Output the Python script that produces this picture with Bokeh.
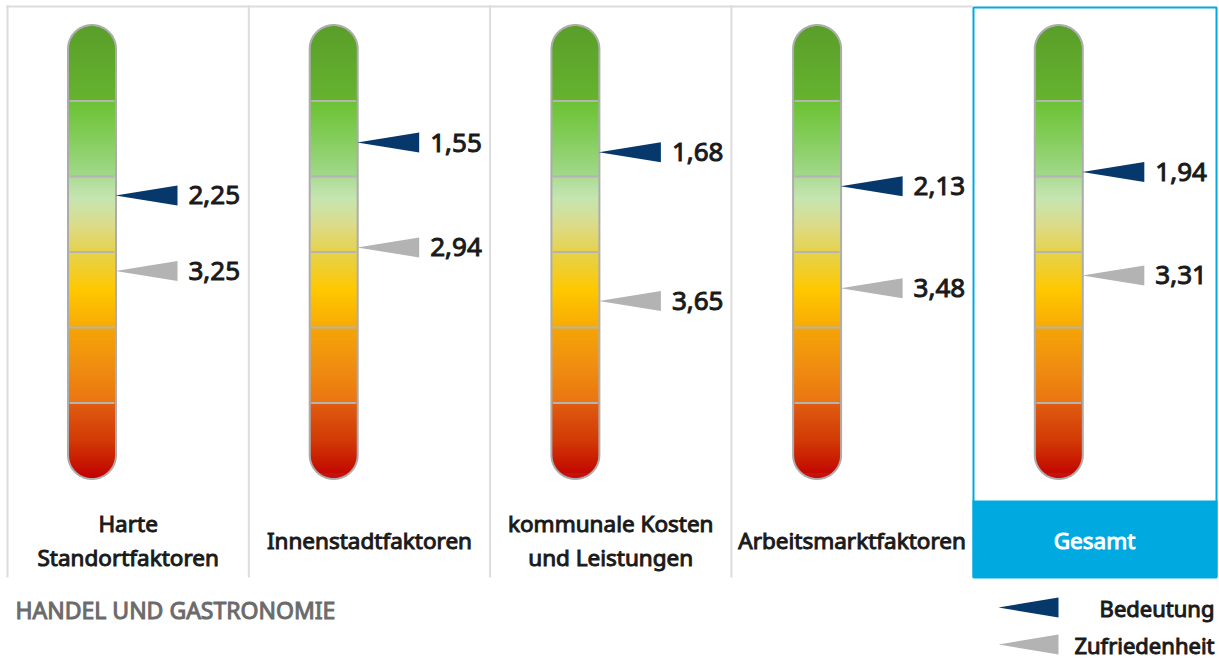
import numpy as np
from bokeh.plotting import figure
from bokeh.models import Range1d, ColumnDataSource
from bokeh.core.properties import value
from bokeh.embed import file_html
from bokeh.resources import INLINE

# ---------------- data ----------------
categories = ["Harte\nStandortfaktoren", "Innenstadtfaktoren",
              "kommunale Kosten\nund Leistungen", "Arbeitsmarktfaktoren", "Gesamt"]
bedeutung = [2.25, 1.55, 1.68, 2.13, 1.94]
zufriedenheit = [3.25, 2.94, 3.65, 3.48, 3.31]
scale_min, scale_max = 0, 6
scale_lines = [1, 2, 3, 4, 5]
title = "HANDEL UND GASTRONOMIE"
legend_labels = ["Bedeutung", "Zufriedenheit"]

# ---------------- style ----------------
BLUE = "#06386c"
GREY = "#b3b3b3"
FRAME = "#dcdcdc"
ACCENT = "#00a9e0"
FONT = "Noto Sans"
TXT = "#1a1a1a"
grad_stops = [(0.0, "#5a9e2a"), (0.99, "#66b32f"), (1.01, "#6cc234"), (1.5, "#84cd5c"),
              (1.99, "#a2d88a"), (2.01, "#aedb98"), (2.3, "#c6e5b0"), (2.65, "#dcdb88"),
              (2.99, "#e6d24e"), (3.01, "#e5d24a"), (3.5, "#ffc800"), (3.99, "#f8aa06"),
              (4.01, "#f5a408"), (4.5, "#f08e10"), (4.99, "#ea7612"), (5.01, "#e05c10"),
              (5.5, "#d23a06"), (6.0, "#c00000")]

K = 75.5     # pixels per scale unit
Y0 = 25.0    # page y of scale value 0
W, H = 1219, 661


def vy(img_y):
    return (img_y - Y0) / K


p = figure(width=W, height=H, x_range=Range1d(0, W),
           y_range=Range1d(vy(H), vy(0)), output_backend="svg",
           toolbar_location=None, min_border=0,
           x_axis_location=None, y_axis_location=None)
p.grid.visible = False
p.outline_line_color = None
p.background_fill_color = "white"
p.border_fill_color = "white"

n = len(categories)
panel_w = 241.3
panel_left = [7 + i * panel_w for i in range(n)]
bar_cx = [91.5 + i * 241.7 for i in range(n)]
BW = 23.5
L = (scale_max - scale_min) * K

# ---------------- frame ----------------
p.segment(x0=[6], x1=[972], y0=[vy(6)], y1=[vy(6)], line_color=FRAME, line_width=2)
for xl in [7] + panel_left[1:4]:
    p.segment(x0=[xl], x1=[xl], y0=[vy(5)], y1=[vy(577)], line_color=FRAME, line_width=2)
p.quad(left=[972], right=[1217], top=[vy(500)], bottom=[vy(577)],
       fill_color=ACCENT, line_color=None)
p.quad(left=[973], right=[1216], top=[vy(7)], bottom=[vy(577)],
       fill_color=None, line_color=ACCENT, line_width=2)

# ---------------- gradient bars ----------------
sv = np.array([s[0] for s in grad_stops])
rgb = np.array([[int(c[1:3], 16), int(c[3:5], 16), int(c[5:7], 16)] for _, c in grad_stops])


def grad_color(v):
    return "#%02x%02x%02x" % tuple(int(round(np.interp(v, sv, rgb[:, k]))) for k in range(3))


left, right, top, bottom, colors = [], [], [], [], []
r = BW
for cx in bar_cx:
    for ypx in np.arange(0, L, 1.0):
        yc = ypx + 0.5
        if yc < r:
            hw = np.sqrt(max(r * r - (r - yc) ** 2, 0))
        elif yc > L - r:
            hw = np.sqrt(max(r * r - (yc - (L - r)) ** 2, 0))
        else:
            hw = r
        left.append(cx - hw)
        right.append(cx + hw)
        top.append(ypx / K)
        bottom.append(min(ypx + 1.4, L) / K)
        colors.append(grad_color(yc / K))
p.quad(source=ColumnDataSource(dict(left=left, right=right, top=top, bottom=bottom, c=colors)),
       left="left", right="right", top="top", bottom="bottom",
       fill_color="c", line_color=None)

# separators
sx0, sx1, sy = [], [], []
for cx in bar_cx:
    for v in scale_lines:
        sx0.append(cx - BW + 1)
        sx1.append(cx + BW - 1)
        sy.append(v)
p.segment(x0=sx0, x1=sx1, y0=sy, y1=sy, line_color="#b4b4b4", line_width=2)

# outlines
ox, oy = [], []
ro = r + 0.5
for cx in bar_cx:
    th1 = np.linspace(0, np.pi, 40)
    th2 = np.linspace(np.pi, 2 * np.pi, 40)
    xs = list(cx + ro * np.cos(th1)) + list(cx + ro * np.cos(th2)) + [cx + ro]
    ys = list((r - ro * np.sin(th1)) / K) + list(((L - r) - ro * np.sin(th2)) / K) + [r / K]
    ox.append(xs)
    oy.append(ys)
p.multi_line(xs=ox, ys=oy, line_color="#acacac", line_width=2)

# ---------------- markers ----------------
TL = 62      # triangle length px
TH = 10 / K  # half height
for vals, col in [(bedeutung, BLUE), (zufriedenheit, GREY)]:
    xs = [[cx + BW, cx + BW + TL, cx + BW + TL] for cx in bar_cx]
    ys = [[v, v - TH, v + TH] for v in vals]
    p.patches(xs=xs, ys=ys, fill_color=col, line_color=None)
    p.text(x=[cx + BW + 73 for cx in bar_cx], y=vals,
           text=[f"{v:.2f}".replace(".", ",") for v in vals],
           text_font=value(FONT), text_font_size="26px",
           text_color=TXT, text_outline_color=TXT,
           text_align="left", text_baseline="middle")

# ---------------- category labels ----------------
lab_x = [pl + panel_w / 2 for pl in panel_left[:4]] + [1094]
lab_col = [TXT] * 4 + ["white"]
p.text(x=lab_x, y=[vy(540)] * n, text=categories, text_color=lab_col,
       text_outline_color=lab_col,
       text_font=value(FONT), text_font_size="22.5px", text_align="center",
       text_baseline="middle", text_line_height=1.08)

# ---------------- title & legend ----------------
p.text(x=[15], y=[vy(609)], text=[title], text_color="#6b6b6b",
       text_outline_color="#6b6b6b",
       text_font=value(FONT), text_font_size="23px", text_align="left",
       text_baseline="middle")
leg_y = [vy(607), vy(644)]
for yv, col in zip(leg_y, [BLUE, GREY]):
    p.patches(xs=[[998, 1058, 1058]], ys=[[yv, yv - TH, yv + TH]], fill_color=col, line_color=None)
p.text(x=[1214, 1214], y=leg_y, text=legend_labels, text_color=TXT,
       text_outline_color=TXT,
       text_font=value(FONT), text_font_size="22px", text_align="right",
       text_baseline="middle")

open("out.html", "w").write(file_html(p, INLINE))
